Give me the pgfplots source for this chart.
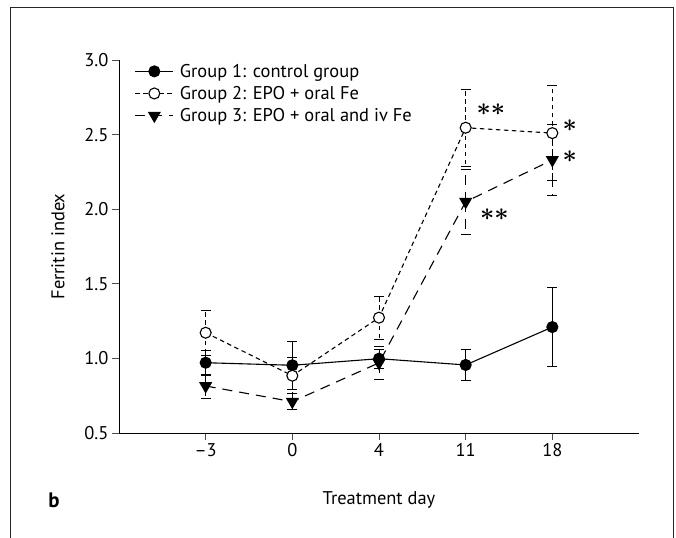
\documentclass[border=0pt]{standalone}
\usepackage{pgfplots}
\pgfplotsset{compat=1.18}
\usepackage{fontspec}
\setmainfont{PT Sans}
\begin{document}
\begin{tikzpicture}[font=\fontsize{18.5}{21}\selectfont]
\useasboundingbox (0bp,0bp) rectangle (676bp,538bp);
\draw[line width=1bp, black!85] (10bp,0bp) -- (10bp,530bp) -- (673bp,530bp) -- (673bp,0bp);
\node[font=\fontsize{21}{22}\selectfont\bfseries] at (54bp,38bp) {b};
\begin{axis}[
  at={(119bp,105bp)}, anchor=south west,
  scale only axis, width=520bp, height=373bp,
  xmin=-1, xmax=5, ymin=0.5, ymax=3.0,
  axis lines*=left,
  axis line style={line width=0.9bp, black},
  xtick={0,1,2,3,4},
  xticklabels={\textendash3,0,4,11,18},
  ytick={0.5,1.0,1.5,2.0,2.5,3.0},
  /pgf/number format/assume math mode=true,
  yticklabel style={/pgf/number format/.cd, fixed, fixed zerofill, precision=1},
  tick align=outside, major tick length=7bp,
  tick style={line width=0.8bp, black!70},
  every axis x label/.style={at={(axis description cs:0.5,0)}, anchor=center, yshift=-67bp},
  every axis y label/.style={at={(axis description cs:0,0.5)}, rotate=90, anchor=center, yshift=61bp},
  xlabel={Treatment day},
  ylabel={Ferritin index},
  legend style={at={(0.03,0.995)}, anchor=north west, draw=none, fill=none,
    row sep=3.5bp, inner sep=0pt, font=\fontsize{18.5}{20}\selectfont,
    /tikz/every odd column/.append style={column sep=4bp}},
  legend cell align=left,
  legend image code/.code={\draw[mark repeat=2,mark phase=2,#1] plot coordinates {(0bp,0bp) (19bp,0bp) (38bp,0bp)};},
  error bars/error bar style={line width=0.8bp, black},
  error bars/error mark options={rotate=90, mark size=5bp, line width=0.8bp, black},
  clip=false,
]
\addplot[black, line width=1.1bp, mark=*, mark size=5.5bp, mark options={solid, fill=black},
  error bars/.cd, y dir=both, y explicit]
  table[x=x, y=y, y error=e] {
x y e
0 0.971 0.085
1 0.954 0.163
2 0.998 0.065
3 0.956 0.105
4 1.210 0.265
};
\addlegendentry{Group 1: control group}
\addplot[black, line width=1.1bp, dash pattern=on 4.5bp off 3.5bp, mark=*, mark size=5.5bp, mark options={solid, fill=white},
  error bars/.cd, y dir=both, y explicit]
  table[x=x, y=y, y error=e] {
x y e
0 1.172 0.152
1 0.884 0.120
2 1.273 0.145
3 2.546 0.260
4 2.510 0.320
};
\addlegendentry{Group 2: EPO + oral Fe}
\addplot[black, line width=1.1bp, dash pattern=on 10bp off 7bp, mark=triangle*, mark size=6.5bp, mark options={solid, fill=black, rotate=180},
  error bars/.cd, y dir=both, y explicit]
  table[x=x, y=y, y error=e] {
x y e
0 0.815 0.080
1 0.710 0.055
2 0.970 0.110
3 2.050 0.220
4 2.330 0.235
};
\addlegendentry{Group 3: EPO + oral and iv Fe}
\node[font=\fontsize{34}{34}\selectfont\boldmath] at (axis cs:3.29,2.665) {${\ast}{\ast}$};
\node[font=\fontsize{34}{34}\selectfont\boldmath] at (axis cs:3.33,1.965) {${\ast}{\ast}$};
\node[font=\fontsize{34}{34}\selectfont\boldmath] at (axis cs:4.2,2.56) {$\ast$};
\node[font=\fontsize{34}{34}\selectfont\boldmath] at (axis cs:4.2,2.35) {$\ast$};
\end{axis}
\end{tikzpicture}
\end{document}
